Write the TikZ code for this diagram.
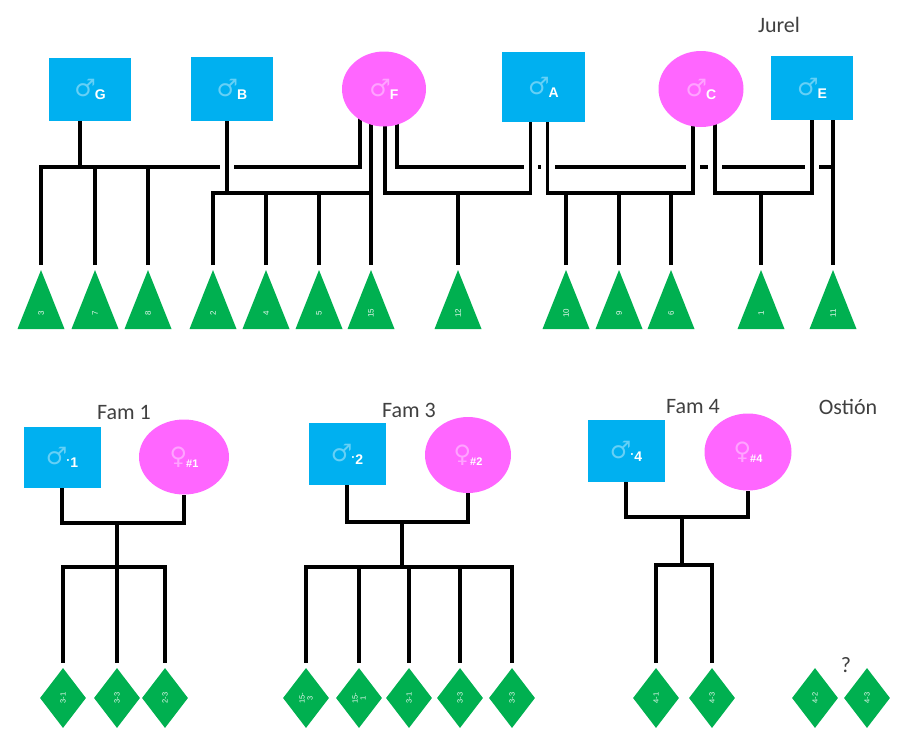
\documentclass[tikz,border=0pt]{standalone}
\usepackage{fontspec}
\setmainfont{Carlito}
\newfontfamily\symf{DejaVu Sans}
\newfontfamily\labf{Liberation Sans}
\usetikzlibrary{shapes.geometric,backgrounds}
\definecolor{mblue}{HTML}{00B0F0}
\definecolor{fpink}{HTML}{FF66FF}
\definecolor{kgreen}{HTML}{00B050}
\definecolor{ttext}{HTML}{404040}
% symbol colour, symbol, letter
\newcommand\slab[3]{\textcolor{#1}{\symf\fontsize{24}{24}\selectfont #2}\kern-1pt\raisebox{-3pt}{\labf\bfseries\fontsize{14}{14}\selectfont\textcolor{white}{#3}}}
\newcommand\flab[3]{\textcolor{#1}{\symf\fontsize{24}{24}\selectfont #2}\kern-1pt\raisebox{-3pt}{\labf\bfseries\fontsize{11}{11}\selectfont\textcolor{white}{#3}}}
\newcommand\mdot{\raisebox{3pt}{\fontsize{12}{12}\selectfont ·}}
\newcommand\tri[3]{%
  \coordinate (#1) at (#2,270);
  \fill[kgreen] (#1) -- ++(23.5,59) -- ++(-47,0) -- cycle;
  \node[tlab] (#1l) at (#2,313) {#3};}
\newcommand\kid[3]{%
  \node[kite] (#1) at (#2,698) {};
  \node[dlab] (#1l) at (#1) {#3};}
\begin{document}
\begin{tikzpicture}[x=1pt,y=-1pt,
  malebox/.style={rectangle, fill=mblue, inner sep=0pt},
  femaleell/.style={ellipse, fill=fpink, inner sep=0pt},
  ln/.style={line width=3.5pt, black},
  bridge/.style={preaction={draw=white, line width=14pt}},
  tlab/.style={text=white!90!kgreen, rotate=90, font=\labf\fontsize{8}{8}\selectfont, inner sep=0pt},
  dlab/.style={text=white!90!kgreen, rotate=90, align=center, font=\labf\fontsize{7.5}{8}\selectfont, inner sep=0pt},
  kite/.style={diamond, fill=kgreen, minimum width=46pt, minimum height=60pt, inner sep=0pt},
  title/.style={font=\fontsize{22}{22}\selectfont, text=ttext, inner sep=0pt}]
\useasboundingbox (0,0) rectangle (904,731);

% ---------- Jurel ----------
\node[title] (jurel) at (779,25) {Jurel};
\node[malebox, minimum width=82pt, minimum height=63pt] (G) at (90,89.5) {\slab{white!40!mblue}{♂}{G}};
\node[malebox, minimum width=82pt, minimum height=64pt] (B) at (232,89) {\slab{white!40!mblue}{♂}{B}};
\node[femaleell, minimum width=84pt, minimum height=75pt] (F) at (384,89) {\slab{white!40!fpink}{♂}{F}};
\node[malebox, minimum width=83pt, minimum height=70pt] (A) at (543.5,87) {\slab{white!40!mblue}{♂}{A}};
\node[femaleell, minimum width=85pt, minimum height=76pt] (C) at (701,89) {\slab{white!40!fpink}{♂}{C}};
\node[malebox, minimum width=82pt, minimum height=64pt] (E) at (812,88) {\slab{white!40!mblue}{♂}{E}};

\tri{t3}{41}{3}
\tri{t7}{95}{7}
\tri{t8}{148}{8}
\tri{t2}{213}{2}
\tri{t4}{266}{4}
\tri{t5}{319}{5}
\tri{t15}{371}{15}
\tri{t12}{458}{12}
\tri{t10}{566}{10}
\tri{t9}{619}{9}
\tri{t6}{671}{6}
\tri{t1}{761}{1}
\tri{t11}{833}{11}

\coordinate (uGF) at (80,167);
\coordinate (uFE) at (833,167);
\coordinate (lBF) at (227,193);
\coordinate (lFA) at (458,193);
\coordinate (lAC) at (619,193);
\coordinate (lCE) at (761,193);

% ---------- Ostion ----------
\node[title] (fam1) at (124,412) {Fam 1};
\node[title] (fam3) at (409,410) {Fam 3};
\node[title] (fam4) at (693,407) {Fam 4};
\node[title] (ostion) at (848,407) {Ostión};
\node[title] (quest) at (846,665) {?};

\node[malebox, minimum width=77pt, minimum height=61pt] (M1) at (62,457) {\slab{white!40!mblue}{♂}{\mdot 1}};
\node[femaleell, minimum width=90pt, minimum height=75pt] (F1) at (184,457) {\flab{white!40!fpink}{♀}{\#1}};
\node[malebox, minimum width=77pt, minimum height=62pt] (M2) at (347,454) {\slab{white!40!mblue}{♂}{\mdot 2}};
\node[femaleell, minimum width=86pt, minimum height=76pt] (F2) at (468,455) {\flab{white!40!fpink}{♀}{\#2}};
\node[malebox, minimum width=77pt, minimum height=62pt] (M4) at (626,451) {\slab{white!40!mblue}{♂}{\mdot 4}};
\node[femaleell, minimum width=87pt, minimum height=77pt] (F4) at (748,452) {\flab{white!40!fpink}{♀}{\#4}};

\kid{d11}{63}{3-1}
\kid{d12}{117}{3-3}
\kid{d13}{165}{2-3}
\kid{d21}{306}{15-\\3}
\kid{d22}{359}{15-\\1}
\kid{d23}{409}{3-1}
\kid{d24}{460}{3-3}
\kid{d25}{512}{3-3}
\kid{d41}{656}{4-1}
\kid{d42}{712}{4-3}
\kid{d51}{815}{4-2}
\kid{d52}{867}{4-3}

\coordinate (p1) at (117,523);
\coordinate (c1) at (117,567);
\coordinate (p2) at (402,522);
\coordinate (c2) at (402,567);
\coordinate (p4) at (682,517);
\coordinate (c4) at (682,565);

\begin{scope}[on background layer]
  % upper buses
  \draw[ln] ([yshift=5pt]t3) |- (uGF) -| ([xshift=-24pt]F.center);
  \draw[ln] ([xshift=-10pt]G.center) -- (uGF);
  \draw[ln] ([yshift=5pt]t7) -- (t7 |- uGF);
  \draw[ln] ([yshift=5pt]t8) -- (t8 |- uGF);
  \draw[ln] ([xshift=13pt]F.center) |- (uFE);
  \draw[ln] ([xshift=21pt]E.center) -- ([yshift=5pt]t11);
  % lower buses, bridged over the upper ones
  \draw[ln,bridge] ([xshift=-5pt]B.center) -- (lBF);
  \draw[ln] ([yshift=5pt]t2) |- (lBF) -| ([yshift=5pt]t15);
  \draw[ln] ([xshift=-13pt]F.center) -- ([yshift=5pt]t15);
  \draw[ln] ([yshift=5pt]t4) -- (t4 |- lBF);
  \draw[ln] ([yshift=5pt]t5) -- (t5 |- lBF);
  \draw[ln,bridge] ([xshift=1pt]F.center) |- (lFA) -| ([xshift=-13pt]A.center);
  \draw[ln,bridge] ([xshift=4pt]A.center) |- (lAC) -| ([xshift=-8pt]C.center);
  \draw[ln,bridge] ([xshift=14pt]C.center) |- (lCE) -| (E.center);
  \draw[ln] ([yshift=5pt]t12) -- (lFA);
  \draw[ln] ([yshift=5pt]t10) -- (t10 |- lAC);
  \draw[ln] ([yshift=5pt]t9) -- (lAC);
  \draw[ln] ([yshift=5pt]t6) -- (t6 |- lAC);
  \draw[ln] ([yshift=5pt]t1) -- (lCE);
  % families
  \draw[ln] (M1) |- (p1) -| (F1);
  \draw[ln] (p1) -- (c1);
  \draw[ln] ([yshift=5pt]d11.north) |- (c1) -| ([yshift=5pt]d13.north);
  \draw[ln] ([yshift=5pt]d12.north) -- (c1);
  \draw[ln] (M2) |- (p2) -| (F2);
  \draw[ln] (p2) -- (c2);
  \draw[ln] ([yshift=5pt]d21.north) |- (c2) -| ([yshift=5pt]d25.north);
  \foreach \i in {2,3,4} \draw[ln] ([yshift=5pt]d2\i.north) -- (d2\i.north |- c2);
  \draw[ln] (M4) |- (p4) -| (F4);
  \draw[ln] (p4) -- (c4);
  \draw[ln] ([yshift=5pt]d41.north) |- (c4) -| ([yshift=5pt]d42.north);
\end{scope}
\end{tikzpicture}
\end{document}
